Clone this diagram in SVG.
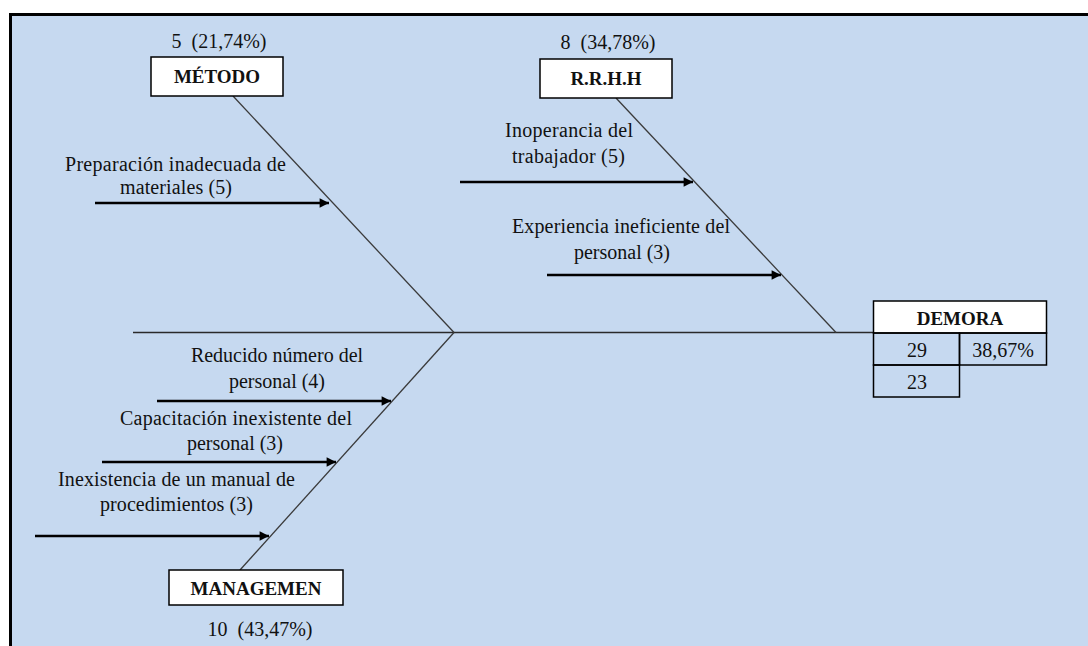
<svg xmlns="http://www.w3.org/2000/svg" width="1088" height="646" viewBox="0 0 1088 646">
  <style>
    .bg { fill: #c6d9f0; }
    .frame { fill: none; stroke: #000; stroke-width: 3; }
    .bone { stroke: #3a3a3a; stroke-width: 1.3; fill: none; }
    .spine { stroke: #2a2a2a; stroke-width: 1.6; fill: none; }
    .cause { stroke: #000; stroke-width: 2.6; fill: none; marker-end: url(#head); }
    .box { fill: #fff; stroke: #000; stroke-width: 1.5; }
    .cell { fill: none; stroke: #000; stroke-width: 1.5; }
    .txt { font-family: "Liberation Serif", "Times New Roman", serif; font-size: 20px; fill: #111; }
    .lbl { font-family: "Liberation Serif", "Times New Roman", serif; font-size: 19px; font-weight: bold; fill: #111; text-anchor: middle; }
    .mid { text-anchor: middle; }
  </style>
  <defs>
    <marker id="head" viewBox="0 0 10 10" refX="10" refY="5" markerWidth="4.2" markerHeight="3.6" orient="auto" markerUnits="strokeWidth">
      <path d="M0,0 L10,5 L0,10 Z" fill="#000"/>
    </marker>
  </defs>

  <!-- canvas -->
  <rect x="0" y="0" width="1088" height="646" fill="#fff"/>
  <rect class="bg" x="11" y="14" width="1077" height="632"/>
  <path class="frame" d="M10.5,646 V14.5 H1088"/>

  <!-- connectors -->
  <g id="connectors">
    <line class="spine" x1="133" y1="332.5" x2="874" y2="332.5"/>
    <line class="bone" x1="233" y1="96" x2="454" y2="332.5"/>
    <line class="bone" x1="616" y1="98" x2="836" y2="332.5"/>
    <line class="bone" x1="454" y1="332.5" x2="240" y2="570"/>
    <line class="cause" x1="95" y1="203" x2="329" y2="203"/>
    <line class="cause" x1="460" y1="182" x2="693" y2="182"/>
    <line class="cause" x1="547" y1="275" x2="781" y2="275"/>
    <line class="cause" x1="157" y1="401" x2="391" y2="401"/>
    <line class="cause" x1="102" y1="462" x2="336" y2="462"/>
    <line class="cause" x1="35" y1="536" x2="269" y2="536"/>
  </g>

  <!-- category: method -->
  <g id="metodo">
    <text class="txt mid" x="219" y="48">5&#160; (21,74%)</text>
    <rect class="box" x="151" y="57" width="132" height="39"/>
    <text class="lbl" x="217" y="83">MÉTODO</text>
  </g>

  <!-- category: human resources -->
  <g id="rrhh">
    <text class="txt mid" x="608" y="49">8&#160; (34,78%)</text>
    <rect class="box" x="540" y="59" width="132" height="39"/>
    <text class="lbl" x="606" y="85">R.R.H.H</text>
  </g>

  <!-- category: management -->
  <g id="managemen">
    <rect class="box" x="169" y="570" width="174" height="35"/>
    <text class="lbl" x="256" y="595">MANAGEMEN</text>
    <text class="txt mid" x="260" y="636">10&#160; (43,47%)</text>
  </g>

  <!-- causes -->
  <g id="cause-preparacion">
    <text class="txt" x="65" y="171" textLength="221" lengthAdjust="spacing">Preparación inadecuada de</text>
    <text class="txt" x="120" y="194" textLength="112" lengthAdjust="spacing">materiales (5)</text>
  </g>
  <g id="cause-inoperancia">
    <text class="txt" x="505" y="137" textLength="128" lengthAdjust="spacing">Inoperancia del</text>
    <text class="txt" x="512" y="163" textLength="113" lengthAdjust="spacing">trabajador (5)</text>
  </g>
  <g id="cause-experiencia">
    <text class="txt" x="512" y="233" textLength="218" lengthAdjust="spacing">Experiencia ineficiente del</text>
    <text class="txt mid" x="622" y="259">personal (3)</text>
  </g>
  <g id="cause-reducido">
    <text class="txt mid" x="277" y="362">Reducido número del</text>
    <text class="txt mid" x="277" y="388">personal (4)</text>
  </g>
  <g id="cause-capacitacion">
    <text class="txt" x="120" y="425" textLength="232" lengthAdjust="spacing">Capacitación inexistente del</text>
    <text class="txt mid" x="235" y="450">personal (3)</text>
  </g>
  <g id="cause-inexistencia">
    <text class="txt" x="58" y="486" textLength="237" lengthAdjust="spacing">Inexistencia de un manual de</text>
    <text class="txt" x="100" y="511" textLength="153" lengthAdjust="spacing">procedimientos (3)</text>
  </g>

  <!-- effect table -->
  <g id="demora">
    <rect class="box" x="873.5" y="301" width="173" height="32"/>
    <text class="lbl" x="960" y="325">DEMORA</text>
    <rect class="cell" x="873.5" y="333" width="86" height="32"/>
    <rect class="cell" x="959.5" y="333" width="87" height="32"/>
    <rect class="cell" x="873.5" y="365" width="86" height="32"/>
    <text class="txt mid" x="917" y="357">29</text>
    <text class="txt mid" x="1003" y="357">38,67%</text>
    <text class="txt mid" x="917" y="389">23</text>
  </g>
</svg>
